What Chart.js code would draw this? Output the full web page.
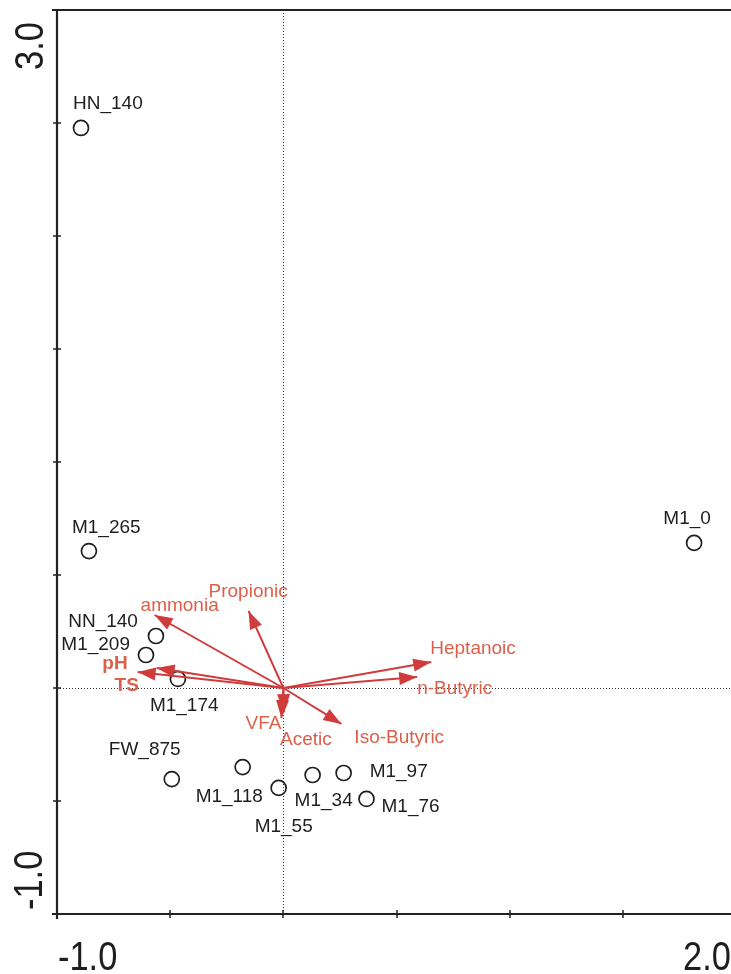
<!DOCTYPE html>
<html>
<head>
<meta charset="utf-8">
<script src="https://cdn.jsdelivr.net/npm/chart.js@4/dist/chart.umd.min.js"></script>
<style>
  html, body { margin: 0; padding: 0; background: #fff; overflow: hidden; }
  canvas { display: block; }
</style>
</head>
<body>
<canvas id="biplot" width="731" height="974"></canvas>
<script>
// Sample scores (axis 1, axis 2)
const sampleNames = ["HN_140", "M1_265", "M1_0", "NN_140", "M1_209", "M1_174",
                     "FW_875", "M1_118", "M1_55", "M1_34", "M1_97", "M1_76"];
const sampleX = [-0.894, -0.859, 1.814, -0.563, -0.607, -0.466,
                 -0.493, -0.180, -0.021, 0.129, 0.266, 0.367];
const sampleY = [2.478, 0.606, 0.642, 0.230, 0.146, 0.040,
                 -0.403, -0.350, -0.442, -0.385, -0.376, -0.491];

// Environmental variable vectors
const varNames = ["ammonia", "Propionic", "pH", "TS", "Heptanoic",
                  "n-Butyric", "Iso-Butyric", "VFA", "Acetic"];
const varX = [-0.569, -0.154, -0.560, -0.644, 0.653, 0.591, 0.256, -0.009, 0.003];
const varY = [0.323, 0.341, 0.088, 0.071, 0.115, 0.049, -0.159, -0.133, -0.107];

// Axis end labels
const xTickLabels = ["-1.0", "2.0"];
const yTickLabels = ["-1.0", "3.0"];
const xTickStep = 0.5;
const yTickStep = 0.5;

// Label placement relative to each mark (pixels): [dx, dy, align]
const sampleLabelPos = {
  "HN_140": [-8, -24, "left"], "M1_265": [-17, -23, "left"], "M1_0": [-7, -24, "center"],
  "NN_140": [-18, -14, "right"], "M1_209": [-16, -10, "right"], "M1_174": [-28, 27, "left"],
  "FW_875": [-63, -29, "left"], "M1_118": [-47, 30, "left"], "M1_55": [-24, 39, "left"],
  "M1_34": [-18, 26, "left"], "M1_97": [26, -1, "left"], "M1_76": [15, 8, "left"]
};
const varLabelPos = {
  "ammonia": [-14, -9, "left"], "Propionic": [-40, -19, "left"], "pH": [-29, -4, "right"],
  "TS": [-23, 14, "left"], "Heptanoic": [-1, -13, "left"], "n-Butyric": [0, 12, "left"],
  "Iso-Butyric": [13, 14, "left"], "VFA": [0, 6, "right"], "Acetic": [-4, 28, "left"]
};
const boldVars = ["pH", "TS"];

const ARROW = "#d03c3c";
const VARTEXT = "#dc5f4a";
const INK = "#1e1e1e";
const FONT = '"Liberation Sans", Arial, sans-serif';

const datasets = varNames.map((n, i) => ({
  type: "line",
  label: n,
  data: [{ x: 0, y: 0 }, { x: varX[i], y: varY[i] }],
  borderColor: ARROW,
  borderWidth: 2,
  pointRadius: 0,
  fill: false,
  clip: false
}));
datasets.push({
  type: "scatter",
  label: "samples",
  data: sampleX.map((x, i) => ({ x, y: sampleY[i] })),
  pointStyle: "circle",
  pointRadius: 7.5,
  pointBackgroundColor: "rgba(255,255,255,0)",
  pointBorderColor: INK,
  pointBorderWidth: 1.7,
  clip: false
});

function stretchedText(ctx, text, x, y, angle, align, size, sx) {
  ctx.save();
  ctx.translate(x, y);
  ctx.rotate(angle);
  ctx.scale(sx, 1);
  ctx.font = size + "px " + FONT;
  ctx.fillStyle = INK;
  ctx.textAlign = align;
  ctx.textBaseline = "alphabetic";
  ctx.fillText(text, 0, 0);
  ctx.restore();
}

const framePlugin = {
  id: "frame",
  beforeDatasetsDraw(chart) {
    const { ctx, chartArea: a, scales: { x, y } } = chart;
    const x0 = x.getPixelForValue(0), y0 = y.getPixelForValue(0);
    ctx.save();
    ctx.strokeStyle = "#333";
    ctx.lineWidth = 1;
    ctx.setLineDash([1, 2]);
    ctx.beginPath();
    ctx.moveTo(Math.round(x0) + 0.5, a.top);
    ctx.lineTo(Math.round(x0) + 0.5, a.bottom);
    ctx.moveTo(a.left, Math.round(y0) + 0.5);
    ctx.lineTo(a.right, Math.round(y0) + 0.5);
    ctx.stroke();
    ctx.restore();
  },
  afterDatasetsDraw(chart) {
    const { ctx, chartArea: a, scales: { x, y } } = chart;
    ctx.save();
    // frame: top border, left and bottom axes
    ctx.strokeStyle = "#222";
    ctx.lineWidth = 2.2;
    ctx.beginPath();
    ctx.moveTo(a.left - 5, a.top); ctx.lineTo(a.right, a.top);
    ctx.moveTo(a.left, a.top); ctx.lineTo(a.left, a.bottom + 5);
    ctx.moveTo(a.left - 5, a.bottom); ctx.lineTo(a.right, a.bottom);
    ctx.stroke();
    // tick marks
    ctx.lineWidth = 1.5;
    ctx.beginPath();
    for (let v = y.min + yTickStep; v < y.max - 1e-6; v += yTickStep) {
      const py = Math.round(y.getPixelForValue(v));
      ctx.moveTo(a.left - 4, py); ctx.lineTo(a.left + 4, py);
    }
    for (let v = x.min + xTickStep; v < x.max - 1e-6; v += xTickStep) {
      const px = Math.round(x.getPixelForValue(v));
      ctx.moveTo(px, a.bottom - 4); ctx.lineTo(px, a.bottom + 4);
    }
    ctx.stroke();

    // arrowheads
    ctx.fillStyle = ARROW;
    varNames.forEach((n, i) => {
      const ox = x.getPixelForValue(0), oy = y.getPixelForValue(0);
      const tx = x.getPixelForValue(varX[i]), ty = y.getPixelForValue(varY[i]);
      const ang = Math.atan2(ty - oy, tx - ox);
      const L = 18, W = 6.5;
      ctx.beginPath();
      ctx.moveTo(tx, ty);
      ctx.lineTo(tx - L * Math.cos(ang) + W * Math.sin(ang), ty - L * Math.sin(ang) - W * Math.cos(ang));
      ctx.lineTo(tx - L * Math.cos(ang) - W * Math.sin(ang), ty - L * Math.sin(ang) + W * Math.cos(ang));
      ctx.closePath();
      ctx.fill();
    });

    // variable labels
    ctx.textBaseline = "middle";
    varNames.forEach((n, i) => {
      const tx = x.getPixelForValue(varX[i]), ty = y.getPixelForValue(varY[i]);
      const [dx, dy, al] = varLabelPos[n];
      ctx.font = (boldVars.includes(n) ? "bold " : "") + "19px " + FONT;
      ctx.fillStyle = VARTEXT;
      ctx.textAlign = al;
      ctx.fillText(n, tx + dx, ty + dy);
    });

    // sample labels
    sampleNames.forEach((n, i) => {
      const px = x.getPixelForValue(sampleX[i]), py = y.getPixelForValue(sampleY[i]);
      const [dx, dy, al] = sampleLabelPos[n];
      ctx.font = "19px " + FONT;
      ctx.fillStyle = INK;
      ctx.textAlign = al;
      ctx.fillText(n, px + dx, py + dy);
    });
    ctx.restore();

    // axis end labels
    stretchedText(ctx, yTickLabels[1], a.left - 14, a.top + 60, -Math.PI / 2, "left", 41, 0.84);
    stretchedText(ctx, yTickLabels[0], a.left - 15, a.bottom - 4, -Math.PI / 2, "left", 41, 0.84);
    stretchedText(ctx, xTickLabels[0], a.left + 1, a.bottom + 56, 0, "left", 41, 0.84);
    stretchedText(ctx, xTickLabels[1], chart.width, a.bottom + 56, 0, "right", 41, 0.84);
  }
};

new Chart(document.getElementById("biplot"), {
  type: "scatter",
  data: { datasets },
  options: {
    responsive: false,
    animation: false,
    events: [],
    layout: { autoPadding: false, padding: { left: 57, top: 10, right: 0, bottom: 60 } },
    plugins: { legend: { display: false }, tooltip: { enabled: false } },
    scales: {
      x: { type: "linear", display: false, min: -1.0, max: 1.977 },
      y: { type: "linear", display: false, min: -1.0, max: 3.0 }
    }
  },
  plugins: [framePlugin]
});
</script>
</body>
</html>
